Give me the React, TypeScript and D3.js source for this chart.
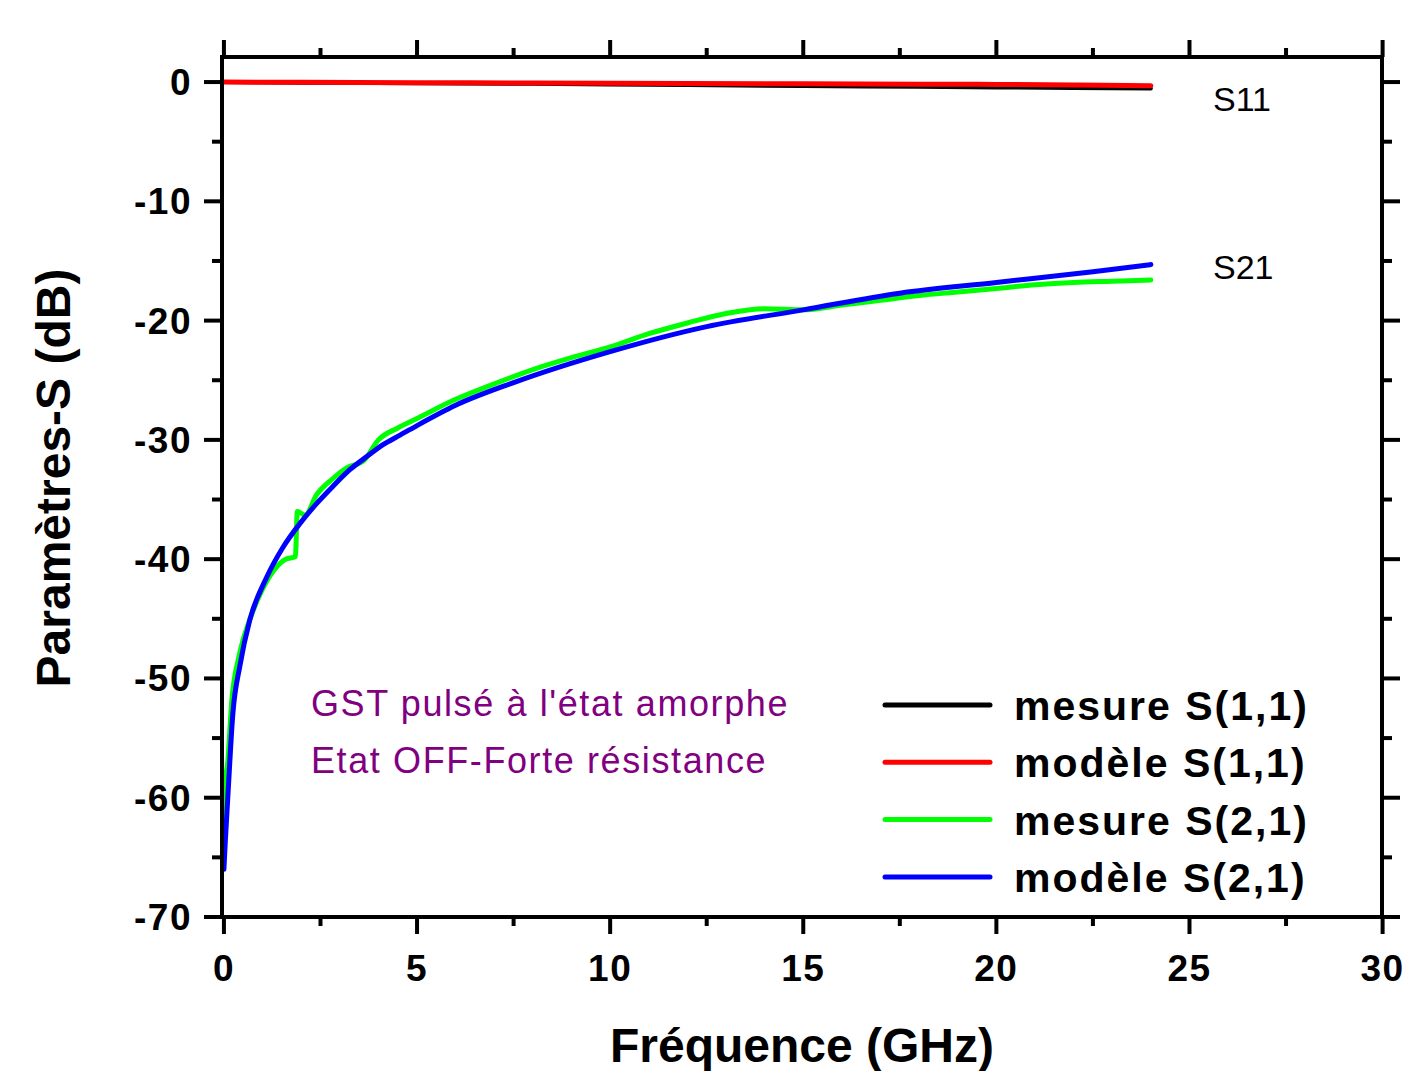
import React from "react";
import * as d3 from "d3";

// frequencies (GHz) and S-parameters (dB)
const freqS11 = [0, 2, 5, 8, 10, 12, 15, 18, 20, 22, 24];
const mesureS11 = [0, -0.05, -0.1, -0.15, -0.2, -0.25, -0.33, -0.4, -0.45, -0.5, -0.55];
const modeleS11 = [0, -0.02, -0.05, -0.08, -0.1, -0.12, -0.15, -0.18, -0.2, -0.25, -0.3];

const freqMesS21 = [0, 0.02, 0.1, 0.2, 0.4, 0.7, 1.0, 1.3, 1.6, 1.85, 1.9, 2.1, 2.4, 2.8, 3.2, 3.6, 4.0, 4.5, 5, 6, 7, 8, 9, 10, 11, 12, 13, 14, 15, 16, 17, 18, 19, 20, 21, 22, 23, 24];
const mesureS21 = [-65, -59, -57, -52, -48, -44.8, -42.5, -40.9, -40, -39.8, -36.0, -36.3, -34.6, -33.3, -32.3, -31.8, -30.0, -29.0, -28.2, -26.6, -25.3, -24.1, -23.1, -22.2, -21.1, -20.2, -19.4, -19.0, -19.1, -18.7, -18.3, -17.9, -17.6, -17.3, -17.0, -16.8, -16.7, -16.6];

const freqModS21 = [0, 0.03, 0.1, 0.23, 0.41, 0.67, 1.11, 1.53, 1.97, 2.41, 2.82, 3.26, 3.7, 4.12, 4.56, 5, 6, 7.5, 10, 12.5, 15, 17.5, 20, 22.5, 24];
const modeleS21 = [-66, -64, -60, -53, -49, -45.1, -41.5, -39, -37, -35.3, -33.9, -32.5, -31.4, -30.4, -29.6, -28.8, -27.1, -25.2, -22.6, -20.5, -19.1, -17.7, -16.8, -15.9, -15.3];

const xTicks = [0, 5, 10, 15, 20, 25, 30];
const xMinor = [2.5, 7.5, 12.5, 17.5, 22.5, 27.5];
const yTicks = [0, -10, -20, -30, -40, -50, -60, -70];
const yMinor = [-5, -15, -25, -35, -45, -55, -65];

const legendLabels = ["mesure S(1,1)", "modèle S(1,1)", "mesure S(2,1)", "modèle S(2,1)"];
const legendColors = ["#000000", "#ff0000", "#00ff00", "#0000ff"];

const left = 222, right = 1382, top = 57, bottom = 917;

export default function App() {
  const x = d3.scaleLinear().domain([-0.05, 30]).range([left, right + 0.6]);
  const y = d3.scaleLinear().domain([-70, 2.1]).range([bottom, top]);

  const line = d3.line<[number, number]>().x(d => x(d[0])).y(d => y(d[1])).curve(d3.curveMonotoneX);
  const zip = (fs: number[], vs: number[]) => fs.map((f, i) => [f, vs[i]] as [number, number]);

  const series = [
    { d: zip(freqS11, mesureS11), c: "#000000", w: 4 },
    { d: zip(freqS11, modeleS11), c: "#ff0000", w: 5 },
    { d: zip(freqMesS21, mesureS21), c: "#00ff00", w: 5 },
    { d: zip(freqModS21, modeleS21), c: "#0000ff", w: 5 },
  ];

  const font = "'Liberation Sans', Arial, sans-serif";

  return (
    <div style={{ position: "absolute", left: 0, top: 0 }}>
      <svg width={1403} height={1071} style={{ display: "block", background: "#fff" }} fontFamily={font}>
        <defs>
          <clipPath id="plot">
            <rect x={left} y={top} width={right - left} height={bottom - top} />
          </clipPath>
        </defs>

        <g clipPath="url(#plot)" fill="none" strokeLinejoin="round" strokeLinecap="round">
          {series.map((s, i) => (
            <path key={i} d={line(s.d) || ""} stroke={s.c} strokeWidth={s.w} />
          ))}
        </g>

        {/* ticks, all outward */}
        <g stroke="#000" strokeWidth={4}>
          {xTicks.map(t => (
            <g key={"xt" + t}>
              <line x1={x(t)} x2={x(t)} y1={bottom} y2={bottom + 17} />
              <line x1={x(t)} x2={x(t)} y1={top} y2={top - 17} />
            </g>
          ))}
          {xMinor.map(t => (
            <g key={"xm" + t}>
              <line x1={x(t)} x2={x(t)} y1={bottom} y2={bottom + 9} />
              <line x1={x(t)} x2={x(t)} y1={top} y2={top - 9} />
            </g>
          ))}
          {yTicks.map(t => (
            <g key={"yt" + t}>
              <line x1={left} x2={left - 18} y1={y(t)} y2={y(t)} />
              <line x1={right} x2={right + 18} y1={y(t)} y2={y(t)} />
            </g>
          ))}
          {yMinor.map(t => (
            <g key={"ym" + t}>
              <line x1={left} x2={left - 10} y1={y(t)} y2={y(t)} />
              <line x1={right} x2={right + 10} y1={y(t)} y2={y(t)} />
            </g>
          ))}
        </g>

        <rect x={left} y={top} width={right - left} height={bottom - top} fill="none" stroke="#000" strokeWidth={4} />

        {/* tick labels */}
        <g fontWeight="bold" fontSize={37} fill="#000" letterSpacing={1.5}>
          {xTicks.map(t => (
            <text key={"xl" + t} x={x(t)} y={981} textAnchor="middle">{t}</text>
          ))}
          {yTicks.map(t => (
            <text key={"yl" + t} x={192} y={y(t) + 13} textAnchor="end">{t}</text>
          ))}
        </g>

        {/* axis titles */}
        <text x={802} y={1062} textAnchor="middle" fontWeight="bold" fontSize={48}>Fréquence (GHz)</text>
        <text transform="translate(70,478) rotate(-90)" textAnchor="middle" fontWeight="bold" fontSize={48}>Paramètres-S (dB)</text>

        {/* curve labels */}
        <text x={1213} y={111} fontSize={34} fill="#000">S11</text>
        <text x={1213} y={279} fontSize={34} fill="#000">S21</text>

        {/* annotation */}
        <g fontSize={36} fill="#800080" letterSpacing={1.6}>
          <text x={311} y={716}>GST pulsé à l'état amorphe</text>
          <text x={311} y={773}>Etat OFF-Forte résistance</text>
        </g>

        {/* legend */}
        <g>
          {legendLabels.map((l, i) => {
            const ly = 705 + i * 57.3;
            return (
              <g key={l}>
                <line x1={885} x2={990} y1={ly} y2={ly} stroke={legendColors[i]} strokeWidth={5} strokeLinecap="round" />
                <text x={1014} y={ly + 15} fontSize={41} fontWeight="bold" letterSpacing={2}>{l}</text>
              </g>
            );
          })}
        </g>
      </svg>
    </div>
  );
}
